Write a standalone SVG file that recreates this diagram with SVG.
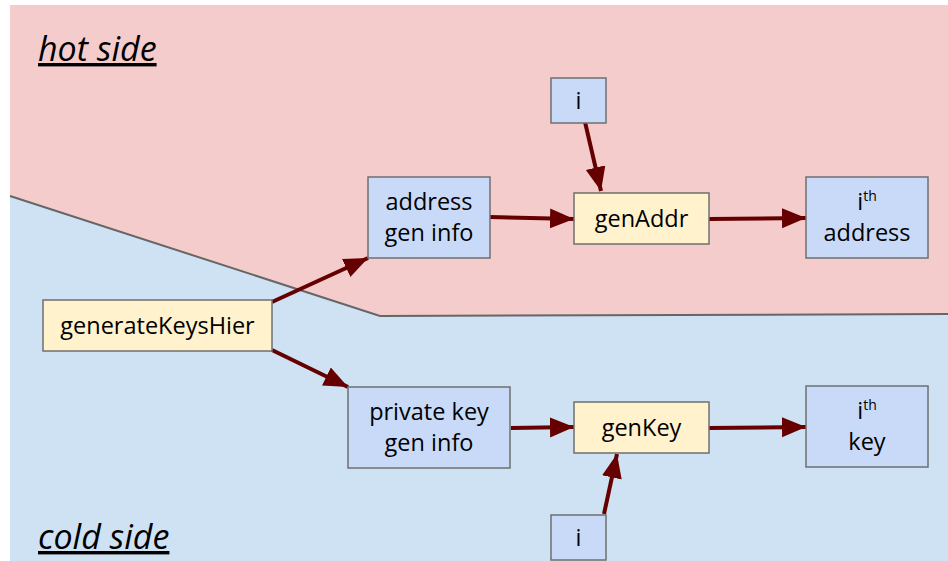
<svg xmlns="http://www.w3.org/2000/svg" width="948" height="561" viewBox="0 0 948 561">
<defs>
<style>
.hot{fill:#f4cccc}
.cold{fill:#cfe2f3}
.b{fill:#c9daf8;stroke:#6f6f6f;stroke-width:1.5}
.y{fill:#fff2cc;stroke:#6f6f6f;stroke-width:1.5}
.t{font-family:"Open Sans","DejaVu Sans",sans-serif;font-size:23.5px;fill:#000;text-anchor:middle}
.sup{font-size:14px}
.side{font-family:"Open Sans","DejaVu Sans",sans-serif;font-size:34px;font-style:italic;fill:#000;text-decoration:underline}
.c{stroke:#660000;stroke-width:4;fill:none;marker-end:url(#ah)}
</style>
<marker id="ah" markerUnits="userSpaceOnUse" markerWidth="26" markerHeight="22" refX="24" refY="10" orient="auto">
<path d="M0,0 L24,10 L0,20 Z" fill="#660000"/>
</marker>
</defs>
<rect x="0" y="0" width="948" height="561" fill="#ffffff"/>
<g id="background">
<polygon class="cold" points="10,196 380,316 948,314 948,561 10,561"/>
<polygon class="hot" points="10,5 948,5 948,314 380,316 10,196"/>
<polyline points="10,196 380,316 948,314" fill="none" stroke="#666666" stroke-width="2"/>
<text class="side" x="38" y="61">hot side</text>
<text class="side" x="38" y="549">cold side</text>
</g>
<g id="connectors">
<line class="c" x1="272" y1="302" x2="368" y2="258"/>
<line class="c" x1="272" y1="350" x2="348" y2="387"/>
<line class="c" x1="490" y1="217" x2="574" y2="219"/>
<line class="c" x1="709" y1="219" x2="806" y2="218"/>
<line class="c" x1="585" y1="122" x2="601" y2="191"/>
<line class="c" x1="511" y1="428" x2="574" y2="427"/>
<line class="c" x1="709" y1="428" x2="806" y2="427"/>
<line class="c" x1="604" y1="514" x2="617" y2="454"/>
</g>
<g id="generateKeysHier">
<rect class="y" x="43" y="300" width="229" height="51"/>
<text class="t" x="157.5" y="334">generateKeysHier</text>
</g>
<g id="addressGenInfo">
<rect class="b" x="368" y="177" width="122" height="81"/>
<text class="t" x="429" y="210">address</text>
<text class="t" x="429" y="241">gen info</text>
</g>
<g id="iTop">
<rect class="b" x="551" y="78" width="55" height="45"/>
<text class="t" x="578.5" y="109">i</text>
</g>
<g id="genAddr">
<rect class="y" x="574" y="193" width="135" height="51"/>
<text class="t" x="641.5" y="227">genAddr</text>
</g>
<g id="ithAddress">
<rect class="b" x="806" y="177" width="122" height="81"/>
<text class="t" x="867" y="210">i<tspan class="sup" dy="-9">th</tspan></text>
<text class="t" x="867" y="241">address</text>
</g>
<g id="privateKeyGenInfo">
<rect class="b" x="348" y="387" width="162" height="81"/>
<text class="t" x="429" y="420">private key</text>
<text class="t" x="429" y="451">gen info</text>
</g>
<g id="genKey">
<rect class="y" x="574" y="402" width="135" height="51"/>
<text class="t" x="641.5" y="436">genKey</text>
</g>
<g id="ithKey">
<rect class="b" x="806" y="386" width="122" height="81"/>
<text class="t" x="867" y="419">i<tspan class="sup" dy="-9">th</tspan></text>
<text class="t" x="867" y="450">key</text>
</g>
<g id="iBottom">
<rect class="b" x="551" y="515" width="55" height="45"/>
<text class="t" x="578.5" y="546">i</text>
</g>
</svg>
